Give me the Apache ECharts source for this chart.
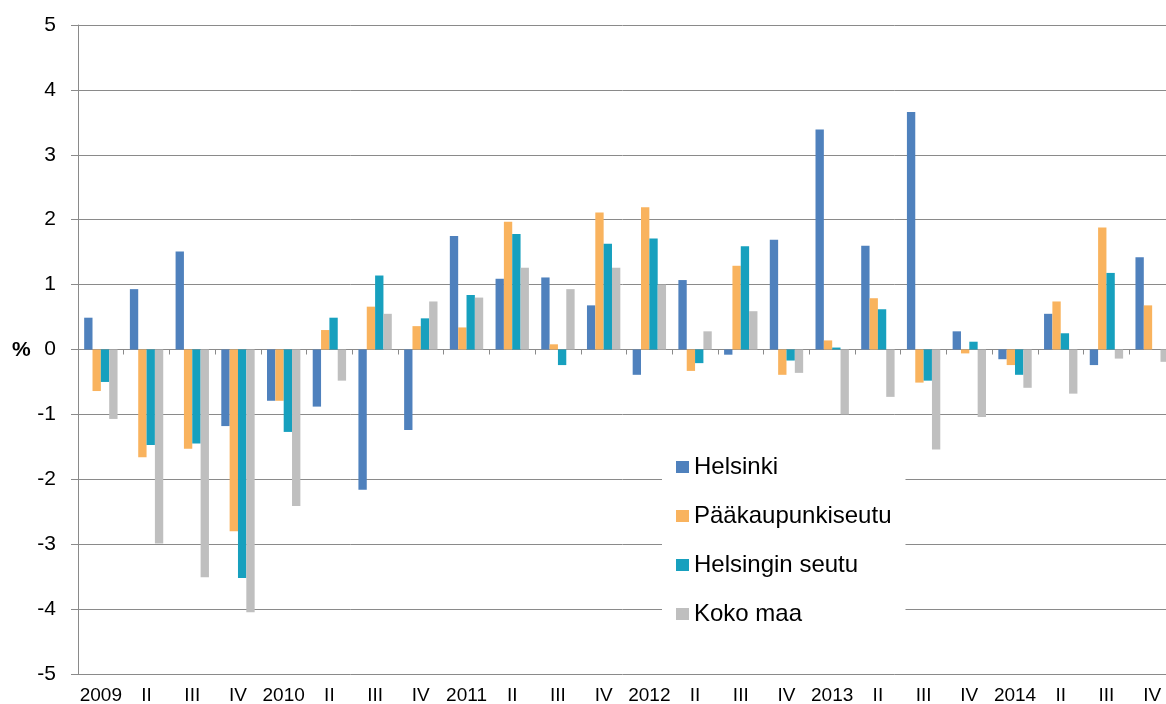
<!DOCTYPE html>
<html>
<head>
<meta charset="utf-8">
<script src="https://cdn.jsdelivr.net/npm/echarts@6/dist/echarts.min.js"></script>
<style>
html,body{margin:0;padding:0;background:#fff;}
#chart{width:1166px;height:704px;}
</style>
</head>
<body>
<div id="chart"></div>
<script>
const categories = ['2009','II','III','IV','2010','II','III','IV','2011','II','III','IV','2012','II','III','IV','2013','II','III','IV','2014','II','III','IV'];
const seriesNames = ['Helsinki','Pääkaupunkiseutu','Helsingin seutu','Koko maa'];
const helsinki = [0.49, 0.93, 1.51, -1.18, -0.79, -0.88, -2.16, -1.24, 1.75, 1.09, 1.11, 0.68, -0.39, 1.07, -0.08, 1.69, 3.39, 1.60, 3.66, 0.28, -0.15, 0.55, -0.24, 1.42];
const paakaupunkiseutu = [-0.64, -1.66, -1.53, -2.80, -0.79, 0.30, 0.66, 0.36, 0.34, 1.97, 0.08, 2.11, 2.19, -0.33, 1.29, -0.39, 0.14, 0.79, -0.51, -0.06, -0.24, 0.74, 1.88, 0.68];
const helsinginSeutu = [-0.50, -1.47, -1.45, -3.52, -1.27, 0.49, 1.14, 0.48, 0.84, 1.78, -0.24, 1.63, 1.71, -0.21, 1.59, -0.17, 0.03, 0.62, -0.48, 0.12, -0.39, 0.25, 1.18, 0];
const kokoMaa = [-1.07, -2.99, -3.51, -4.05, -2.41, -0.48, 0.55, 0.74, 0.80, 1.26, 0.93, 1.26, 1.00, 0.28, 0.59, -0.36, -1.00, -0.73, -1.54, -1.04, -0.59, -0.68, -0.14, -0.19];
const colors = ['#4F81BD', '#F9B35E', '#17A0BE', '#BFBFBF'];
const yLabelUnit = '%';

const chart = echarts.init(document.getElementById('chart'), null, {renderer: 'canvas'});
const font = 'Liberation Sans, Arial, sans-serif';
const gridColor = '#8a8a8a';
const allData = [helsinki, paakaupunkiseutu, helsinginSeutu, kokoMaa];

chart.setOption({
  animation: false,
  backgroundColor: '#ffffff',
  color: colors,
  grid: {left: 78, right: -9, top: 25, bottom: 30, containLabel: false, outerBoundsMode: 'none'},
  graphic: [{
    type: 'text', left: 12, top: 340,
    style: {text: yLabelUnit, font: 'bold 21px ' + font, fill: '#000'}
  }],
  legend: {
    orient: 'vertical',
    left: 662, top: 430,
    padding: [25, 14, 26, 14],
    backgroundColor: '#ffffff',
    itemWidth: 13, itemHeight: 12,
    itemGap: 25,
    icon: 'rect',
    textStyle: {fontFamily: font, fontSize: 24, color: '#000'},
    data: seriesNames
  },
  xAxis: [{
    type: 'category',
    data: categories,
    position: 'bottom',
    axisLine: {show: false, onZero: false},
    axisTick: {show: false},
    axisLabel: {fontFamily: font, fontSize: 19, color: '#000', margin: 12, interval: 0},
    splitLine: {show: false}
  }, {
    type: 'category',
    data: categories,
    position: 'bottom',
    axisLine: {show: true, onZero: true, lineStyle: {color: gridColor, width: 1}},
    axisTick: {show: true, length: 5, lineStyle: {color: gridColor}},
    axisLabel: {show: false},
    splitLine: {show: false}
  }],
  yAxis: {
    type: 'value',
    min: -5, max: 5, interval: 1,
    axisLine: {show: true, lineStyle: {color: gridColor, width: 1}},
    axisTick: {show: true, length: 7, lineStyle: {color: gridColor}},
    axisLabel: {fontFamily: font, fontSize: 21, color: '#000', margin: 22},
    splitLine: {show: true, lineStyle: {color: gridColor, width: 1}}
  },
  series: seriesNames.map((n, i) => ({
    name: n,
    type: 'bar',
    xAxisIndex: 0,
    data: allData[i],
    barGap: '0%',
    barCategoryGap: '27%',
    itemStyle: {color: colors[i]}
  }))
});
</script>
</body>
</html>
